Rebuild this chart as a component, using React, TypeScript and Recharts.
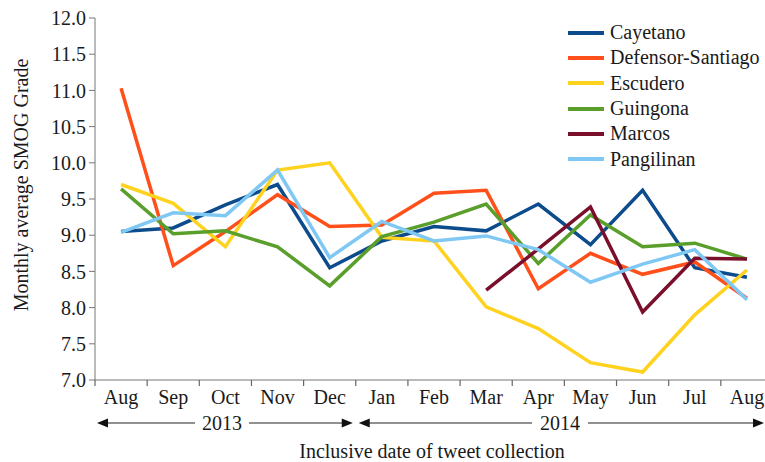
import { LineChart, Line, XAxis, YAxis, Legend } from "recharts";

const months = ["Aug", "Sep", "Oct", "Nov", "Dec", "Jan", "Feb", "Mar", "Apr", "May", "Jun", "Jul", "Aug"];

const cayetano = [9.05, 9.1, 9.42, 9.7, 8.55, 8.92, 9.12, 9.06, 9.43, 8.87, 9.62, 8.55, 8.42];
const defensor = [11.03, 8.58, 9.05, 9.56, 9.12, 9.14, 9.58, 9.62, 8.26, 8.75, 8.46, 8.63, 8.13];
const escudero = [9.7, 9.44, 8.84, 9.9, 10.0, 8.97, 8.92, 8.01, 7.71, 7.24, 7.11, 7.9, 8.52];
const guingona = [9.64, 9.02, 9.06, 8.84, 8.3, 8.98, 9.18, 9.43, 8.61, 9.28, 8.84, 8.89, 8.67];
const marcos = [null, null, null, null, null, null, null, 8.24, 8.81, 9.39, 7.94, 8.68, 8.67];
const pangilinan = [9.04, 9.31, 9.27, 9.9, 8.69, 9.19, 8.92, 8.99, 8.8, 8.35, 8.6, 8.8, 8.11];

const yTicks = [7, 7.5, 8, 8.5, 9, 9.5, 10, 10.5, 11, 11.5, 12];

const series = [
  { key: "Cayetano", values: cayetano, color: "#0d4c8c" },
  { key: "Defensor-Santiago", values: defensor, color: "#ff4f1a" },
  { key: "Escudero", values: escudero, color: "#ffd21f" },
  { key: "Guingona", values: guingona, color: "#5a9e2b" },
  { key: "Marcos", values: marcos, color: "#7a0f2c" },
  { key: "Pangilinan", values: pangilinan, color: "#80c8f4" },
];

const data = months.map((m, i) => {
  const row: any = { month: m };
  series.forEach((s) => (row[s.key] = s.values[i]));
  return row;
});

const FONT = '"Liberation Serif", "Times New Roman", serif';
const FS = 20;
const W = 780;
const H = 462;
const PLOT_LEFT = 95;
const PLOT_RIGHT = 773;
const band = (PLOT_RIGHT - PLOT_LEFT) / months.length;

function MonthTick(props: any) {
  const { x, y, payload } = props;
  const bx = x - band / 2;
  return (
    <g>
      <line x1={bx} y1={y} x2={bx} y2={y + 6} stroke="#666" strokeWidth={1.2} />
      <text x={x} y={y + 24} textAnchor="middle" fontSize={FS} fontFamily={FONT} fill="#1a1a1a">
        {payload.value}
      </text>
    </g>
  );
}

function renderLegend(props: any) {
  const { payload } = props;
  return (
    <div style={{ fontFamily: FONT }}>
      {payload.map((p: any) => (
        <div key={p.value} style={{ display: "flex", alignItems: "center", height: 25.3 }}>
          <svg width={36} height={6}>
            <line x1={0} y1={3} x2={36} y2={3} stroke={p.color} strokeWidth={4} />
          </svg>
          <span style={{ marginLeft: 6, fontSize: FS, color: "#1a1a1a", whiteSpace: "nowrap" }}>{p.value}</span>
        </div>
      ))}
    </div>
  );
}

function Arrow({ x1, x2, y }: { x1: number; x2: number; y: number }) {
  return (
    <g>
      <line x1={x1 + 8} y1={y} x2={x2 - 8} y2={y} stroke="#222" strokeWidth={1.2} />
      <polygon points={`${x1},${y} ${x1 + 11},${y - 4.5} ${x1 + 11},${y + 4.5}`} fill="#111" />
      <polygon points={`${x2},${y} ${x2 - 11},${y - 4.5} ${x2 - 11},${y + 4.5}`} fill="#111" />
    </g>
  );
}

export default function App() {
  const yearY = 423;
  const split = PLOT_LEFT + band * 5;
  return (
    <div style={{ position: "absolute", left: 0, top: 0, width: 765, height: H, overflow: "hidden", background: "#fff" }}>
      <div style={{ position: "relative", width: W, height: H }}>
        <LineChart width={W} height={H} data={data} margin={{ top: 18, right: W - PLOT_RIGHT, left: 0, bottom: 52 }}>
          <XAxis
            dataKey="month"
            height={30}
            tickSize={0}
            tickMargin={0}
            tickLine={false}
            interval={0}
            padding={{ left: band / 2, right: band / 2 }}
            stroke="#777"
            tick={<MonthTick />}
          />
          <YAxis
            width={PLOT_LEFT}
            domain={[7, 12]}
            ticks={yTicks}
            interval={0}
            tickSize={6}
            tickMargin={3}
            stroke="#777"
            tickFormatter={(v: number) => v.toFixed(1)}
            tick={{ fontSize: FS, fontFamily: FONT, fill: "#1a1a1a" }}
          />
          <Legend
            layout="horizontal"
            verticalAlign="middle"
            align="center"
            content={renderLegend}
            wrapperStyle={{ top: 20, left: 568, width: 200, height: 152 }}
          />
          {series.map((s) => (
            <Line
              key={s.key}
              type="linear"
              dataKey={s.key}
              stroke={s.color}
              strokeWidth={3.5}
              dot={false}
              activeDot={false}
              isAnimationActive={false}
            />
          ))}
        </LineChart>
        <svg width={W} height={H} style={{ position: "absolute", left: 0, top: 0, pointerEvents: "none" }}>
          <g fontFamily={FONT} fontSize={FS} fill="#1a1a1a">
            <Arrow x1={PLOT_LEFT + 2} x2={split - 3} y={yearY} />
            <rect x={195} y={yearY - 12} width={54} height={24} fill="#fff" />
            <text x={222} y={yearY + 7} textAnchor="middle">2013</text>
            <Arrow x1={split + 3} x2={764} y={yearY} />
            <rect x={532} y={yearY - 12} width={56} height={24} fill="#fff" />
            <text x={560} y={yearY + 7} textAnchor="middle">2014</text>
            <text x={432} y={458} textAnchor="middle">Inclusive date of tweet collection</text>
            <text transform="translate(28,185) rotate(-90)" textAnchor="middle">Monthly average SMOG Grade</text>
          </g>
        </svg>
      </div>
    </div>
  );
}
